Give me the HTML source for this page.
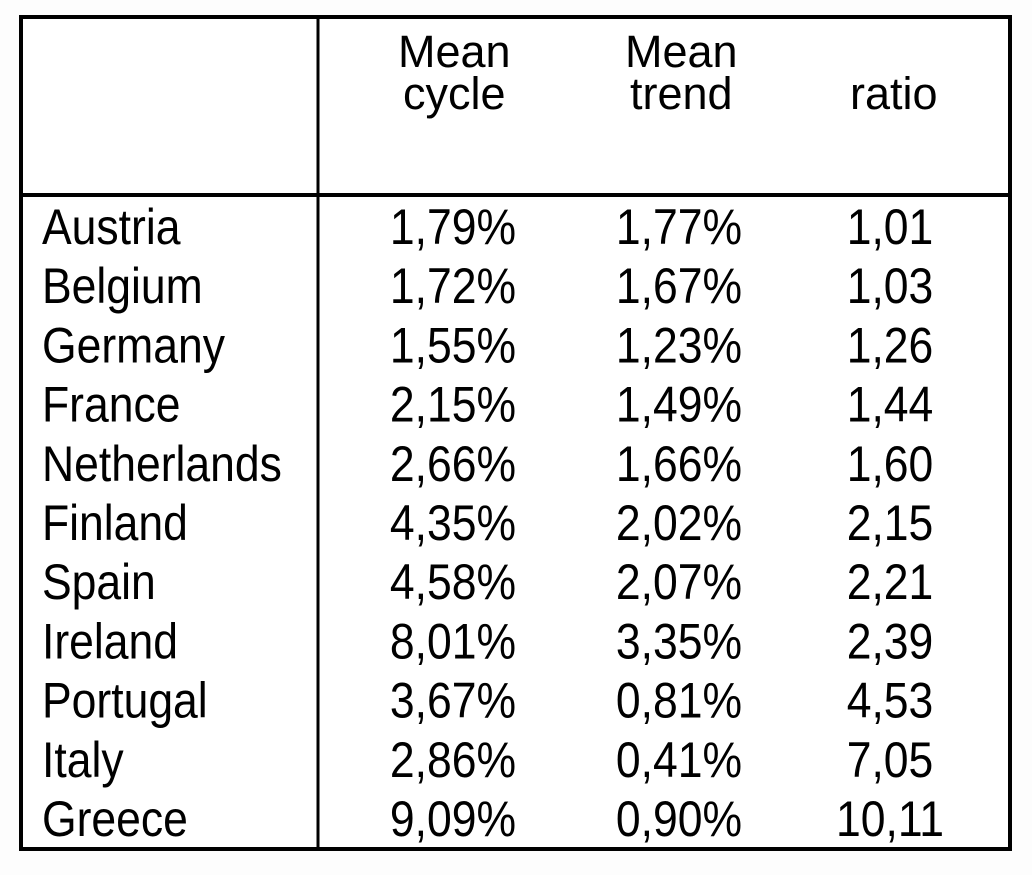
<!DOCTYPE html>
<html><head><meta charset="utf-8"><style>
html,body{margin:0;padding:0;background:#fff;}
svg{display:block;font-family:"Liberation Sans",Arial,sans-serif;}
</style></head><body>
<svg id="t" width="1032" height="875" viewBox="0 0 1032 875">
<rect x="0" y="0" width="1032" height="875" fill="#fdfdfd"/>
<rect x="21" y="17" width="989" height="832" fill="#fff" stroke="#000" stroke-width="4"/>
<line x1="318" y1="17" x2="318" y2="849" stroke="#000" stroke-width="3"/>
<line x1="21" y1="195" x2="1010" y2="195" stroke="#000" stroke-width="4"/>
<g font-size="45" fill="#000">
<text x="398" y="67">Mean</text>
<text x="403" y="109">cycle</text>
<text x="625" y="67">Mean</text>
<text x="630" y="109">trend</text>
<text x="850" y="109">ratio</text>
</g>
<g id="body"></g>
</svg>
<script>
const countries=["Austria","Belgium","Germany","France","Netherlands","Finland","Spain","Ireland","Portugal","Italy","Greece"];
const meanCycle=["1,79%","1,72%","1,55%","2,15%","2,66%","4,35%","4,58%","8,01%","3,67%","2,86%","9,09%"];
const meanTrend=["1,77%","1,67%","1,23%","1,49%","1,66%","2,02%","2,07%","3,35%","0,81%","0,41%","0,90%"];
const ratio=["1,01","1,03","1,26","1,44","1,60","2,15","2,21","2,39","4,53","7,05","10,11"];
const NS="http://www.w3.org/2000/svg";
const body=document.getElementById('body');
function cell(txt,x,y,anchor,name){
  const t=document.createElementNS(NS,'text');
  t.setAttribute('transform','translate('+x+','+y+') scale(0.89,1)');
  t.setAttribute('text-anchor',anchor);
  t.setAttribute('font-size','50');
  t.setAttribute('fill','#000');
  t.textContent=txt;
  
  
  body.appendChild(t);
}
countries.forEach((c,i)=>{
  const y=244+i*59.2;
  cell(c,42,y,'start','country-label');
  cell(meanCycle[i],516,y,'end','mean-cycle-value');
  cell(meanTrend[i],742,y,'end','mean-trend-value');
  cell(ratio[i],890,y,'middle','ratio-value');
});
</script>
</body></html>
